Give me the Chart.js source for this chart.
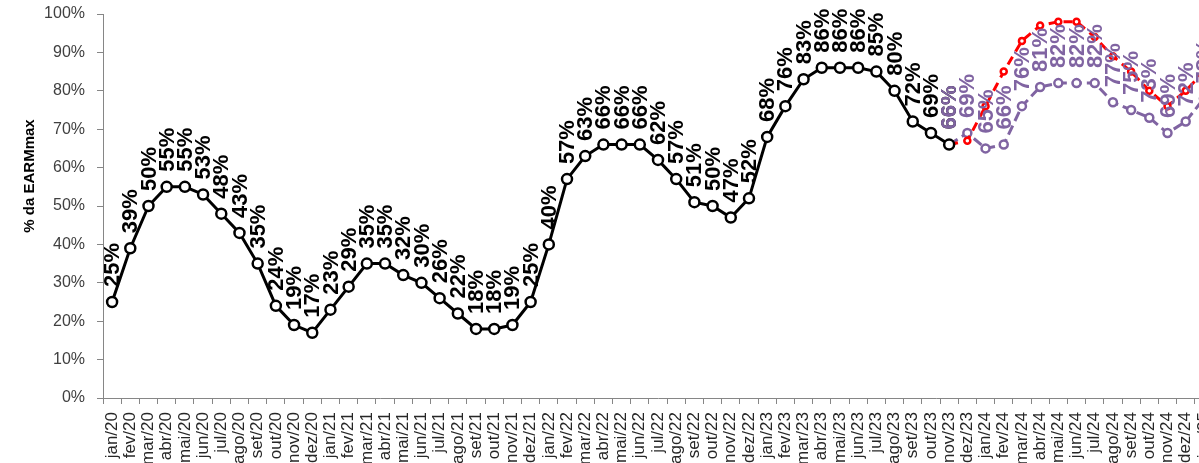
<!DOCTYPE html>
<html>
<head>
<meta charset="utf-8">
<script src="https://cdn.jsdelivr.net/npm/chart.js@4/dist/chart.umd.min.js"></script>
<style>
  html, body { margin: 0; padding: 0; background: #fff; overflow: hidden; }
  #wrap { width: 1230px; height: 463px; }
</style>
</head>
<body>
<div id="wrap"><canvas id="chart" width="1230" height="463"></canvas></div>
<script>
// categories (month/year)
const categories = [
  'jan/20','fev/20','mar/20','abr/20','mai/20','jun/20','jul/20','ago/20','set/20','out/20','nov/20','dez/20',
  'jan/21','fev/21','mar/21','abr/21','mai/21','jun/21','jul/21','ago/21','set/21','out/21','nov/21','dez/21',
  'jan/22','fev/22','mar/22','abr/22','mai/22','jun/22','jul/22','ago/22','set/22','out/22','nov/22','dez/22',
  'jan/23','fev/23','mar/23','abr/23','mai/23','jun/23','jul/23','ago/23','set/23','out/23','nov/23','dez/23',
  'jan/24','fev/24','mar/24','abr/24','mai/24','jun/24','jul/24','ago/24','set/24','out/24','nov/24','dez/24',
  'jan/25'
];

// observed EARM (black), jan/20 .. nov/23
const verificado = [
  25, 39, 50, 55, 55, 53, 48, 43, 35, 24, 19, 17,
  23, 29, 35, 35, 32, 30, 26, 22, 18, 18, 19, 25,
  40, 57, 63, 66, 66, 66, 62, 57, 51, 50, 47, 52,
  68, 76, 83, 86, 86, 86, 85, 80, 72, 69, 66
];
// projections, nov/23 .. jan/25
const previsto = [66, 69, 65, 66, 76, 81, 82, 82, 82, 77, 75, 73, 69, 72, 78];
const referencia = [66, 67, 76, 85, 93, 97, 98, 98, 94, 89, 85, 80, 76, 80, 85];

const startProj = categories.indexOf('nov/23');
function pad(arr, start) {
  const out = categories.map(() => null);
  arr.forEach((v, i) => { out[start + i] = v; });
  return out;
}

const purple = '#8064A2';

// draws rotated value labels above the points + the y axis title
const rotatedLabels = {
  id: 'rotatedLabels',
  afterDatasetsDraw(chart) {
    const ctx = chart.ctx;
    chart.data.datasets.forEach((ds, i) => {
      if (!ds.showLabels) return;
      const meta = chart.getDatasetMeta(i);
      ctx.save();
      ctx.font = 'bold 22px "Liberation Sans", Arial, sans-serif';
      ctx.fillStyle = ds.borderColor;
      ctx.textAlign = 'left';
      ctx.textBaseline = 'middle';
      meta.data.forEach((pt, j) => {
        const v = ds.data[j];
        if (v === null || v === undefined) return;
        ctx.save();
        ctx.translate(pt.x + 1, pt.y - 15);
        ctx.rotate(-Math.PI / 2);
        ctx.fillText(v + '%', 0, 0);
        ctx.restore();
      });
      ctx.restore();
    });

    ctx.save();
    ctx.font = 'bold 15px "Liberation Sans", Arial, sans-serif';
    ctx.fillStyle = '#000';
    ctx.textAlign = 'center';
    ctx.textBaseline = 'middle';
    ctx.translate(30, 176);
    ctx.rotate(-Math.PI / 2);
    ctx.fillText('% da EARMmax', 0, 0);
    ctx.restore();
  }
};

const ctx = document.getElementById('chart').getContext('2d');
new Chart(ctx, {
  type: 'line',
  data: {
    labels: categories,
    datasets: [
      {
        label: 'Verificado',
        data: pad(verificado, 0),
        showLabels: true,
        borderColor: '#000000',
        backgroundColor: '#ffffff',
        borderWidth: 3,
        pointRadius: 5,
        pointBorderWidth: 2.5,
        pointBackgroundColor: '#ffffff',
        pointBorderColor: '#000000',
        tension: 0,
        order: 1
      },
      {
        label: 'Referência',
        data: pad(referencia, startProj),
        borderColor: '#ff0000',
        backgroundColor: '#ffffff',
        borderWidth: 3,
        borderDash: [9, 6],
        pointRadius: 3,
        pointBorderWidth: 2.5,
        pointBackgroundColor: '#ffffff',
        pointBorderColor: '#ff0000',
        tension: 0,
        order: 2
      },
      {
        label: 'Previsto',
        data: pad(previsto, startProj),
        showLabels: true,
        borderColor: purple,
        backgroundColor: '#ffffff',
        borderWidth: 3,
        borderDash: [10, 5],
        pointRadius: 4,
        pointBorderWidth: 2.5,
        pointBackgroundColor: '#ffffff',
        pointBorderColor: purple,
        tension: 0,
        order: 3
      }
    ]
  },
  options: {
    responsive: false,
    animation: false,
    layout: { padding: { left: 0, right: 17, top: 14, bottom: 0 } },
    plugins: {
      legend: { display: false },
      tooltip: { enabled: false }
    },
    scales: {
      x: {
        offset: true,
        grid: { offset: true, drawOnChartArea: false, drawTicks: true, tickLength: 6, color: '#868686' },
        border: { display: true, color: '#868686', width: 1 },
        ticks: {
          autoSkip: false,
          minRotation: 90,
          maxRotation: 90,
          padding: 8,
          color: '#262626',
          font: { family: '"Liberation Sans", Arial, sans-serif', size: 17 }
        },
        afterFit(scale) {
          scale.height = 65;
          scale.paddingLeft = 0;
          scale.paddingRight = 0;
        }
      },
      y: {
        min: 0,
        max: 100,
        grid: { drawOnChartArea: false, drawTicks: true, tickLength: 6, color: '#868686' },
        border: { display: true, color: '#868686', width: 1 },
        ticks: {
          stepSize: 10,
          padding: 12,
          color: '#404040',
          font: { family: '"Liberation Sans", Arial, sans-serif', size: 16 },
          callback: v => v + '%'
        },
        afterFit(scale) {
          scale.width = 103;
          scale.paddingTop = 0;
          scale.paddingBottom = 0;
        }
      }
    }
  },
  plugins: [rotatedLabels]
});
</script>
</body>
</html>
